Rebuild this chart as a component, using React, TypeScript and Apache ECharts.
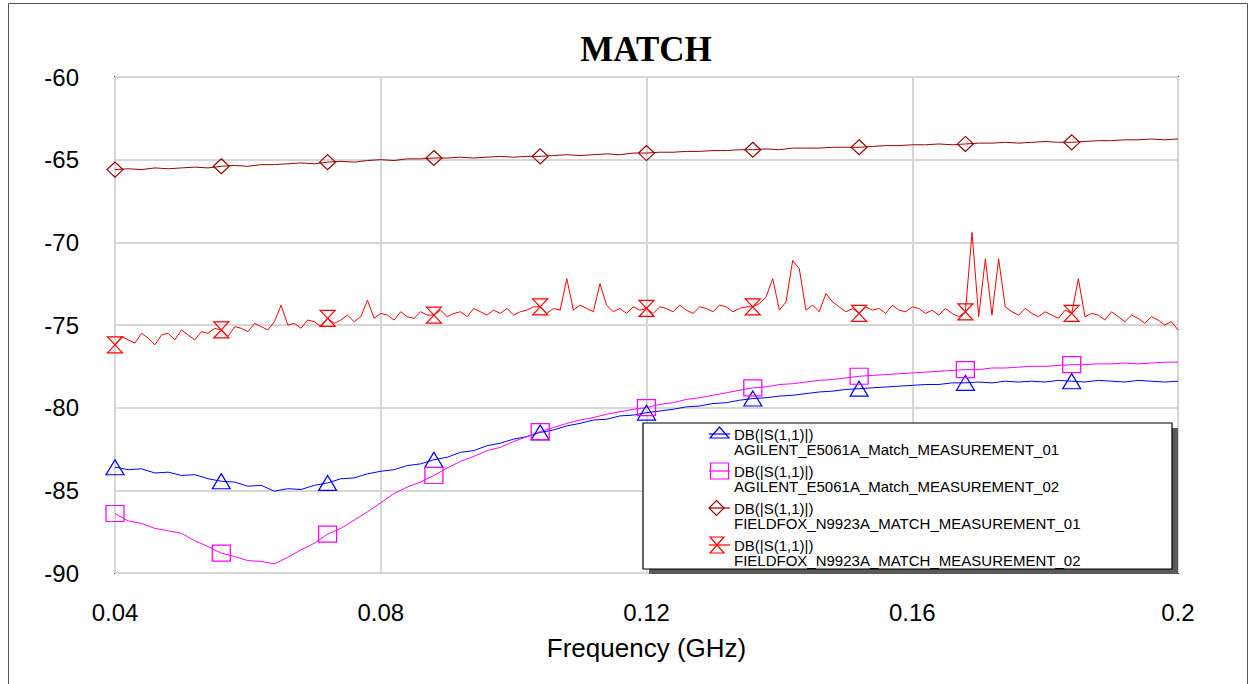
import React, { useEffect, useRef } from "react";
import * as echarts from "echarts";

// ---------- text ----------
const TITLE = "MATCH";
const X_AXIS_NAME = "Frequency (GHz)";
const LEGEND_LINE1 = "DB(|S(1,1)|)";
const SERIES_NAMES = [
  "AGILENT_E5061A_Match_MEASUREMENT_01",
  "AGILENT_E5061A_Match_MEASUREMENT_02",
  "FIELDFOX_N9923A_MATCH_MEASUREMENT_01",
  "FIELDFOX_N9923A_MATCH_MEASUREMENT_02",
];

// ---------- axes ----------
const X_MIN = 0.04;
const X_MAX = 0.2;
const X_INTERVAL = 0.04;
const Y_MIN = -90;
const Y_MAX = -60;
const Y_INTERVAL = 5;

// ---------- sweep ----------
const SWEEP_START = 0.04;
const STEP_COARSE = 0.002; // AGILENT_01, AGILENT_02, FIELDFOX_01
const STEP_FINE = 0.001; // FIELDFOX_02
const MARKER_FREQS = [0.04, 0.056, 0.072, 0.088, 0.104, 0.12, 0.136, 0.152, 0.168, 0.184];

// ---------- values (dB) ----------
const AGILENT_01 = [
  -83.6, -83.75, -83.7, -83.95, -83.9, -84.1, -84.05, -84.3, -84.45, -84.5,
  -84.75, -84.7, -85.05, -84.9, -84.95, -84.7, -84.55, -84.3, -84.25, -84.0,
  -83.85, -83.75, -83.5, -83.4, -83.15, -83.0, -82.7, -82.6, -82.3, -82.15,
  -81.9, -81.75, -81.5, -81.35, -81.1, -80.95, -80.75, -80.7, -80.5, -80.45,
  -80.3, -80.2, -80.1, -79.95, -79.9, -79.75, -79.7, -79.55, -79.45, -79.4,
  -79.3, -79.25, -79.15, -79.05, -79.0, -78.9, -78.85, -78.8, -78.75, -78.7,
  -78.65, -78.6, -78.6, -78.5, -78.5, -78.45, -78.5, -78.4, -78.45, -78.4,
  -78.45, -78.35, -78.4, -78.45, -78.35, -78.4, -78.45, -78.35, -78.4, -78.45,
  -78.4,
];

const AGILENT_02 = [
  -86.4, -86.85, -87.0, -87.3, -87.45, -87.6, -88.05, -88.4, -88.8, -89.0,
  -89.25, -89.3, -89.45, -89.05, -88.6, -88.2, -87.65, -87.3, -86.8, -86.3,
  -85.75, -85.2, -84.8, -84.5, -84.1, -83.65, -83.25, -82.95, -82.6, -82.4,
  -82.05, -81.75, -81.45, -81.2, -80.95, -80.75, -80.6, -80.4, -80.25, -80.1,
  -80.0, -79.8, -79.7, -79.5, -79.4, -79.25, -79.1, -78.95, -78.8, -78.75,
  -78.6, -78.55, -78.45, -78.35, -78.3, -78.2, -78.1, -78.05, -78.0, -77.95,
  -77.9, -77.85, -77.8, -77.75, -77.7, -77.7, -77.6, -77.6, -77.55, -77.5,
  -77.5, -77.45, -77.4, -77.4, -77.35, -77.35, -77.3, -77.35, -77.3, -77.25,
  -77.25,
];

const FIELDFOX_01 = [
  -65.6, -65.55, -65.6, -65.5, -65.55, -65.5, -65.45, -65.5, -65.4, -65.35,
  -65.4, -65.3, -65.3, -65.25, -65.2, -65.25, -65.15, -65.1, -65.15, -65.05,
  -65.0, -65.05, -64.95, -64.95, -64.9, -64.9, -64.85, -64.9, -64.85, -64.8,
  -64.85, -64.8, -64.8, -64.75, -64.7, -64.75, -64.7, -64.65, -64.7, -64.6,
  -64.6, -64.55, -64.55, -64.5, -64.5, -64.45, -64.45, -64.4, -64.4, -64.35,
  -64.4, -64.3, -64.3, -64.3, -64.25, -64.25, -64.25, -64.2, -64.15, -64.15,
  -64.1, -64.1, -64.05, -64.1, -64.05, -64.0, -64.0, -63.95, -64.0, -63.95,
  -63.9, -63.95, -63.95, -63.9, -63.85, -63.85, -63.8, -63.8, -63.75, -63.8,
  -63.75,
];

const FIELDFOX_02 = [
  -76.2, -75.7, -75.9, -76.1, -75.5, -75.8, -76.2, -75.6, -75.5, -75.9,
  -75.3, -75.6, -75.9, -75.4, -75.5, -75.2, -75.3, -75.7, -75.1, -75.2,
  -75.4, -74.9, -75.1, -75.3, -74.8, -73.8, -75.0, -74.9, -75.2, -74.7,
  -74.8, -75.1, -74.6, -74.9, -74.7, -74.4, -74.8, -74.5, -73.5, -74.6,
  -74.3, -74.4, -74.7, -74.2, -74.5, -74.6, -74.2, -74.4, -74.4, -74.1,
  -74.5, -74.3, -74.2, -74.5, -74.0, -74.2, -74.4, -74.1, -74.3, -74.0,
  -74.4, -74.2, -74.1, -73.9, -73.9, -74.3, -74.0, -74.1, -72.2, -74.1,
  -73.8, -74.0, -74.2, -72.5, -73.8, -74.2, -74.0, -74.3, -73.9, -74.1,
  -74.0, -74.3, -73.9, -74.0, -74.2, -73.8, -74.1, -74.3, -73.9, -74.0,
  -74.2, -73.8, -73.9, -74.2, -74.0, -73.9, -73.9, -73.7, -73.3, -72.2,
  -74.1, -73.6, -71.1, -71.6, -74.1, -73.8, -74.2, -73.1, -73.6, -73.9,
  -74.2, -74.0, -74.3, -73.9, -74.1, -74.0, -74.3, -73.8, -74.1, -74.2,
  -73.9, -74.0, -74.3, -74.1, -74.4, -74.0, -74.3, -74.5, -74.2, -69.4,
  -74.5, -71.0, -74.4, -71.0, -73.9, -74.2, -74.4, -74.0, -74.3, -74.5,
  -74.2, -74.4, -74.6, -74.1, -74.3, -72.2, -74.5, -74.3, -74.4, -74.7,
  -74.2, -74.5, -74.8, -74.4, -74.6, -74.9, -74.5, -74.7, -75.0, -74.8,
  -75.3,
];

// ---------- styles ----------
const HOURGLASS = "path://M0,0L10,0L0,10L10,10Z";
const SERIES_STYLE = [
  { values: AGILENT_01, step: STEP_COARSE, color: "#0000FF", symbol: "triangle", size: [18, 15], icon: "triangle" },
  { values: AGILENT_02, step: STEP_COARSE, color: "#FF00FF", symbol: "rect", size: [18, 16], icon: "rect" },
  { values: FIELDFOX_01, step: STEP_COARSE, color: "#990000", symbol: "diamond", size: [16, 15], icon: "diamond" },
  { values: FIELDFOX_02, step: STEP_FINE, color: "#FF0000", symbol: HOURGLASS, size: [15, 16], icon: "hourglass" },
];

const FONT = '"Liberation Sans", Arial, sans-serif';
const LEGEND_Z = 50;

function buildData(values: number[], step: number, symbol: string, size: number[], color: string) {
  return values.map((v, i) => {
    const f = +(SWEEP_START + i * step).toFixed(4);
    const isMarker = MARKER_FREQS.some((m) => Math.abs(m - f) < 1e-6);
    if (isMarker) {
      return {
        value: [f, v],
        symbol,
        symbolSize: size,
        itemStyle: { color: "rgba(255,255,255,0)", borderColor: color, borderWidth: 1.2 },
      };
    }
    return { value: [f, v] };
  });
}

function legendGraphic() {
  const els: any[] = [];
  const bx = 643, by = 423, bw = 529, bh = 146;
  els.push({ type: "rect", z: LEGEND_Z, silent: true, shape: { x: bx + 6, y: by + 5, width: bw, height: bh }, style: { fill: "#5a5a5a" } });
  els.push({
    type: "rect",
    z: LEGEND_Z + 1,
    silent: true,
    shape: { x: bx, y: by, width: bw, height: bh },
    style: { fill: "#ffffff", stroke: "#000000", lineWidth: 1.2 },
  });
  SERIES_STYLE.forEach((s, i) => {
    const y = 434 + i * 37;
    const c = s.color;
    const st = { fill: "none", stroke: c, lineWidth: 1.2 };
    const z = LEGEND_Z + 2;
    els.push({ type: "line", z, silent: true, shape: { x1: 709, y1: y, x2: 730, y2: y }, style: { stroke: c, lineWidth: 1.2 } });
    if (s.icon === "triangle") {
      els.push({ type: "polygon", z, silent: true, shape: { points: [[719.5, y - 7], [729, y + 4], [710, y + 4]] }, style: st });
    } else if (s.icon === "rect") {
      els.push({ type: "rect", z, silent: true, shape: { x: 710.5, y: y - 8, width: 18, height: 16 }, style: st });
    } else if (s.icon === "diamond") {
      els.push({ type: "polygon", z, silent: true, shape: { points: [[716.5, y - 7.5], [724, y], [716.5, y + 7.5], [709, y]] }, style: st });
    } else {
      els.push({ type: "polygon", z, silent: true, shape: { points: [[710, y - 8], [724, y - 8], [710, y + 8], [724, y + 8]] }, style: st });
    }
    els.push({
      type: "text",
      z,
      silent: true,
      style: { text: LEGEND_LINE1, x: 734, y: y, fill: "#000", fontSize: 15, fontFamily: FONT, verticalAlign: "middle", align: "left" },
    });
    els.push({
      type: "text",
      z,
      silent: true,
      style: { text: SERIES_NAMES[i], x: 734, y: y + 15, fill: "#000", fontSize: 15, fontFamily: FONT, verticalAlign: "middle", align: "left" },
    });
  });
  return els;
}

export default function App() {
  const ref = useRef<HTMLDivElement>(null);
  useEffect(() => {
    if (!ref.current) return;
    const chart = echarts.init(ref.current, undefined, { renderer: "svg" });
    const series = SERIES_STYLE.map((s, i) => ({
      name: SERIES_NAMES[i],
      type: "line",
      data: buildData(s.values, s.step, s.symbol, s.size, s.color),
      symbol: "none",
      showSymbol: true,
      showAllSymbol: true,
      lineStyle: { color: s.color, width: 1 },
      itemStyle: { color: s.color },
      silent: true,
      z: 3,
    }));
    chart.setOption({
      animation: false,
      backgroundColor: "#ffffff",
      title: {
        text: TITLE,
        left: 646,
        top: 32,
        textAlign: "center",
        padding: 0,
        textStyle: { fontFamily: '"Liberation Serif", "Times New Roman", serif', fontWeight: "bold", fontSize: 35, color: "#000" },
      },
      grid: {
        left: 115,
        right: 71,
        top: 77,
        bottom: 111,
        show: true,
        borderColor: "#4a4a4a",
        borderWidth: 2,
        backgroundColor: "rgba(0,0,0,0)",
      },
      xAxis: {
        type: "value",
        min: X_MIN,
        max: X_MAX,
        interval: X_INTERVAL,
        name: X_AXIS_NAME,
        nameLocation: "middle",
        nameGap: 62,
        nameTextStyle: { fontFamily: FONT, fontSize: 26, color: "#000" },
        axisLine: { show: false },
        axisTick: { show: false },
        axisLabel: {
          fontFamily: FONT,
          fontSize: 24,
          color: "#000",
          margin: 27,
          formatter: (v: number) => String(parseFloat(v.toFixed(2))),
        },
        splitLine: { show: true, lineStyle: { color: "#d6d6d6", width: 2 } },
      },
      yAxis: {
        type: "value",
        min: Y_MIN,
        max: Y_MAX,
        interval: Y_INTERVAL,
        axisLine: { show: false },
        axisTick: { show: false },
        axisLabel: { fontFamily: FONT, fontSize: 24, color: "#000", margin: 36 },
        splitLine: { show: true, lineStyle: { color: "#d6d6d6", width: 2 } },
      },
      series,
      graphic: [
        {
          type: "rect",
          shape: { x: 8.5, y: 3.5, width: 1239, height: 700 },
          style: { fill: "none", stroke: "#555", lineWidth: 1 },
          silent: true,
          z: 0,
        },
        ...legendGraphic(),
      ],
    });
    return () => chart.dispose();
  }, []);
  return <div ref={ref} style={{ position: "absolute", left: 0, top: 0, width: 1249, height: 684 }} />;
}
